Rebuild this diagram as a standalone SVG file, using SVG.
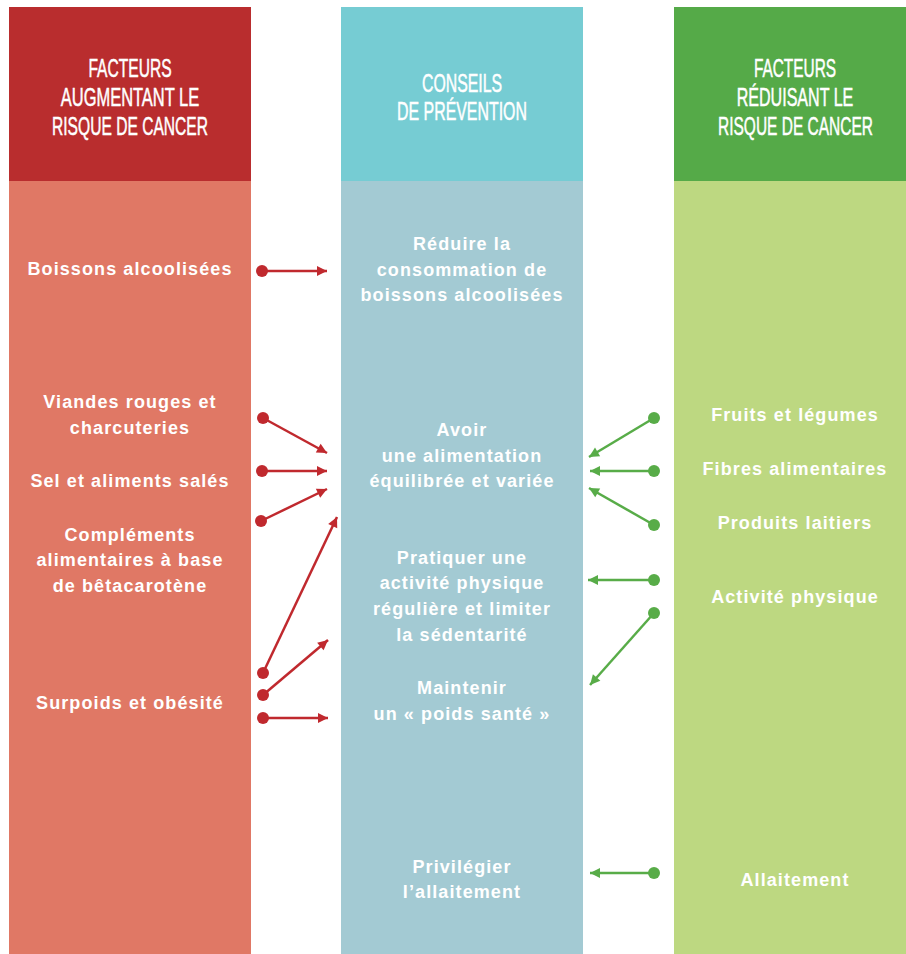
<svg xmlns="http://www.w3.org/2000/svg" width="906" height="954" viewBox="0 0 906 954">
<defs>
<style>
.hd{font-family:"Liberation Sans",Arial,sans-serif;font-size:25px;fill:#fff;stroke:#fff;stroke-width:0.5px;text-anchor:middle;}
.tx{font-family:"Liberation Sans",Arial,sans-serif;font-weight:bold;font-size:18px;fill:#fff;text-anchor:middle;letter-spacing:1.1px;}
.ar{stroke:#C0292E;stroke-width:2.5;fill:none;marker-end:url(#ahR);}
.ag{stroke:#58AC48;stroke-width:2.5;fill:none;marker-end:url(#ahG);}
.dr{fill:#C0292E;}
.dg{fill:#58AC48;}
</style>
<marker id="ahR" markerUnits="userSpaceOnUse" markerWidth="12" markerHeight="12" viewBox="0 0 12 12" refX="11" refY="6" orient="auto"><path d="M1,1 L11,6 L1,11 Z" fill="#C0292E"/></marker>
<marker id="ahG" markerUnits="userSpaceOnUse" markerWidth="12" markerHeight="12" viewBox="0 0 12 12" refX="11" refY="6" orient="auto"><path d="M1,1 L11,6 L1,11 Z" fill="#58AC48"/></marker>
</defs>
<rect width="906" height="954" fill="#fff"/>
<g id="col-left">
<rect x="9" y="7" width="242" height="174" fill="#B92D2E"/>
<rect x="9" y="181" width="242" height="773" fill="#E07865"/>
<text class="hd" transform="translate(130,77) scale(0.624,1)">FACTEURS</text>
<text class="hd" transform="translate(130,106) scale(0.659,1)">AUGMENTANT LE</text>
<text class="hd" transform="translate(130,135) scale(0.624,1)">RISQUE DE CANCER</text>
</g>
<g id="col-mid">
<rect x="341" y="7" width="242" height="174" fill="#76CCD3"/>
<rect x="341" y="181" width="242" height="773" fill="#A3CAD3"/>
<text class="hd" transform="translate(462,92) scale(0.633,1)">CONSEILS</text>
<text class="hd" transform="translate(462,120) scale(0.637,1)">DE PRÉVENTION</text>
</g>
<g id="col-right">
<rect x="674" y="7" width="232" height="174" fill="#55AA48"/>
<rect x="674" y="181" width="232" height="773" fill="#BDD881"/>
<text class="hd" transform="translate(795,77) scale(0.617,1)">FACTEURS</text>
<text class="hd" transform="translate(795,106) scale(0.643,1)">RÉDUISANT LE</text>
<text class="hd" transform="translate(795.5,135) scale(0.62,1)">RISQUE DE CANCER</text>
</g>
<g id="n-alcool"><text class="tx" x="130" y="275">Boissons alcoolisées</text></g>
<g id="n-viandes"><text class="tx"><tspan x="130" y="408">Viandes rouges et</tspan><tspan x="130" y="434">charcuteries</tspan></text></g>
<g id="n-sel"><text class="tx" x="130" y="487">Sel et aliments salés</text></g>
<g id="n-complements"><text class="tx"><tspan x="130" y="541">Compléments</tspan><tspan x="130" y="566">alimentaires à base</tspan><tspan x="130" y="592">de bêtacarotène</tspan></text></g>
<g id="n-surpoids"><text class="tx" x="130" y="709">Surpoids et obésité</text></g>
<g id="n-reduire"><text class="tx"><tspan x="462" y="250">Réduire la</tspan><tspan x="462" y="275.5">consommation de</tspan><tspan x="462" y="301">boissons alcoolisées</tspan></text></g>
<g id="n-alimentation"><text class="tx"><tspan x="462" y="436">Avoir</tspan><tspan x="462" y="462">une alimentation</tspan><tspan x="462" y="487">équilibrée et variée</tspan></text></g>
<g id="n-activite"><text class="tx"><tspan x="462" y="564">Pratiquer une</tspan><tspan x="462" y="589">activité physique</tspan><tspan x="462" y="615">régulière et limiter</tspan><tspan x="462" y="641">la sédentarité</tspan></text></g>
<g id="n-poids"><text class="tx"><tspan x="462" y="694">Maintenir</tspan><tspan x="462" y="720">un « poids santé »</tspan></text></g>
<g id="n-allaitement"><text class="tx"><tspan x="462" y="873">Privilégier</tspan><tspan x="462" y="898">l’allaitement</tspan></text></g>
<g id="n-fruits"><text class="tx" x="795" y="421">Fruits et légumes</text></g>
<g id="n-fibres"><text class="tx" x="795" y="475">Fibres alimentaires</text></g>
<g id="n-laitiers"><text class="tx" x="795" y="529">Produits laitiers</text></g>
<g id="n-physique"><text class="tx" x="795" y="603">Activité physique</text></g>
<g id="n-allait"><text class="tx" x="795" y="886">Allaitement</text></g>
<g id="connectors">
<line class="ar" x1="262" y1="271" x2="327" y2="271"/>
<line class="ar" x1="263" y1="418" x2="327" y2="453"/>
<line class="ar" x1="262" y1="471" x2="327" y2="471"/>
<line class="ar" x1="261" y1="521" x2="327" y2="489"/>
<line class="ar" x1="263" y1="673" x2="337" y2="517"/>
<line class="ar" x1="263" y1="695" x2="328" y2="640"/>
<line class="ar" x1="263" y1="718" x2="328" y2="718"/>
<circle class="dr" cx="262" cy="271" r="6"/>
<circle class="dr" cx="263" cy="418" r="6"/>
<circle class="dr" cx="262" cy="471" r="6"/>
<circle class="dr" cx="261" cy="521" r="6"/>
<circle class="dr" cx="263" cy="673" r="6"/>
<circle class="dr" cx="263" cy="695" r="6"/>
<circle class="dr" cx="263" cy="718" r="6"/>
<line class="ag" x1="654" y1="418" x2="589" y2="457"/>
<line class="ag" x1="654" y1="471" x2="590" y2="471"/>
<line class="ag" x1="654" y1="525" x2="589" y2="488"/>
<line class="ag" x1="654" y1="580" x2="588" y2="580"/>
<line class="ag" x1="654" y1="613" x2="590" y2="685"/>
<line class="ag" x1="654" y1="873" x2="590" y2="873"/>
<circle class="dg" cx="654" cy="418" r="6"/>
<circle class="dg" cx="654" cy="471" r="6"/>
<circle class="dg" cx="654" cy="525" r="6"/>
<circle class="dg" cx="654" cy="580" r="6"/>
<circle class="dg" cx="654" cy="613" r="6"/>
<circle class="dg" cx="654" cy="873" r="6"/>
</g>
</svg>
